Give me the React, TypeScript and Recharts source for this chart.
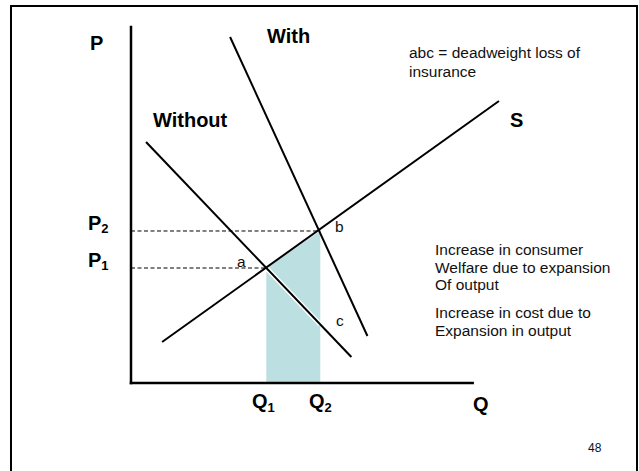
import { ComposedChart, Line, Area, XAxis, YAxis, ReferenceLine } from 'recharts'

// curve end points (Q along x, P up)
const supply = [{ q: 0.91, p: 1.15 }, { q: 10.77, p: 7.92 }]
const demandWithout = [{ q: 0.44, p: 6.77 }, { q: 6.45, p: 0.73 }]
const demandWith = [{ q: 2.9, p: 9.72 }, { q: 6.92, p: 1.32 }]

// equilibrium points a (without) and b (with), c on the old demand at Q2
const Q1 = 3.96
const P1 = 3.23
const Q2 = 5.54
const P2 = 4.27
const pointC = { q: 5.54, p: 1.64 }

// area under supply between Q1 and Q2
const shaded = [{ q: Q1, p: P1 }, { q: Q2, p: P2 }]

const axisMaxQ = 10
const axisMaxP = 10

const noteTop = ['abc = deadweight loss of', 'insurance']
const noteWelfare = ['Increase in consumer', 'Welfare due to expansion', 'Of output']
const noteCost = ['Increase in cost due to', 'Expansion in output']

const font = '"Liberation Sans", Arial, sans-serif'

export default function App() {
  return (
    <div style={{ position: 'absolute', left: 0, top: 0, width: 639, height: 471, overflow: 'hidden', background: '#fff', fontFamily: font }}>
      {/* slide frame, bottom runs off the picture */}
      <div style={{ position: 'absolute', left: 10, top: 5, width: 628, height: 520, border: '2.5px solid #000', boxSizing: 'border-box' }} />

      <div style={{ position: 'absolute', left: 0, top: 0 }}>
        <ComposedChart
          width={639}
          height={471}
          data={shaded}
          margin={{ top: 27, right: 98, bottom: 88, left: 131 }}
        >
          <XAxis type="number" dataKey="q" domain={[0, 12]} allowDataOverflow hide />
          <YAxis type="number" domain={[0, 10]} allowDataOverflow hide />

          <Area dataKey="p" type="linear" fill="#bcdfe2" fillOpacity={1} stroke="none" isAnimationActive={false} />
          <Line data={[{ q: Q1, p: P1 }, pointC]} dataKey="p" type="linear" stroke="#fff" strokeWidth={5} dot={false} isAnimationActive={false} />

          <ReferenceLine segment={[{ x: 0, y: P2 }, { x: Q2, y: P2 }]} stroke="#000" strokeWidth={1} strokeDasharray="4 2.5" />
          <ReferenceLine segment={[{ x: 0, y: P1 }, { x: Q1, y: P1 }]} stroke="#000" strokeWidth={1} strokeDasharray="4 2.5" />

          <Line data={supply} dataKey="p" type="linear" stroke="#000" strokeWidth={2} dot={false} isAnimationActive={false} />
          <Line data={demandWithout} dataKey="p" type="linear" stroke="#000" strokeWidth={2} dot={false} isAnimationActive={false} />
          <Line data={demandWith} dataKey="p" type="linear" stroke="#000" strokeWidth={2} dot={false} isAnimationActive={false} />

          {/* axes */}
          <ReferenceLine segment={[{ x: 0, y: 0 }, { x: 0, y: axisMaxP }]} stroke="#000" strokeWidth={2.5} strokeLinecap="square" />
          <ReferenceLine segment={[{ x: 0, y: 0 }, { x: axisMaxQ, y: 0 }]} stroke="#000" strokeWidth={2.5} strokeLinecap="square" />
        </ComposedChart>
      </div>

      <svg width={639} height={471} style={{ position: 'absolute', left: 0, top: 0, pointerEvents: 'none' }} fontFamily={font}>
        <g fontWeight="bold" fontSize={20} fill="#000">
          <text x={90} y={50}>P</text>
          <text x={267} y={43}>With</text>
          <text x={153} y={127}>Without</text>
          <text x={510} y={127}>S</text>
          <text x={88} y={230}>P<tspan fontSize={13} dy={3}>2</tspan></text>
          <text x={88} y={267}>P<tspan fontSize={13} dy={3}>1</tspan></text>
          <text x={252} y={408}>Q<tspan fontSize={13} dy={4}>1</tspan></text>
          <text x={309} y={408}>Q<tspan fontSize={13} dy={4}>2</tspan></text>
          <text x={473} y={411}>Q</text>
        </g>
        <g fontSize={15.5} fill="#111">
          <text x={237} y={267}>a</text>
          <text x={335} y={232}>b</text>
          <text x={336} y={326}>c</text>
          {noteTop.map((t, i) => (
            <text key={t} x={409} y={58 + i * 18.5}>{t}</text>
          ))}
          {noteWelfare.map((t, i) => (
            <text key={t} x={435} y={255 + i * 17.5}>{t}</text>
          ))}
          {noteCost.map((t, i) => (
            <text key={t} x={435} y={318 + i * 18}>{t}</text>
          ))}
        </g>
        <text x={588} y={452} fontSize={12} fill="#111">48</text>
      </svg>
    </div>
  )
}
